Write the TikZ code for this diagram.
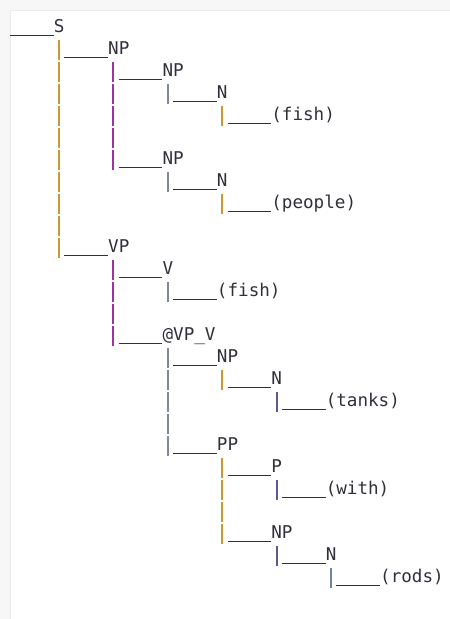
\documentclass[tikz,border=0pt]{standalone}
\usepackage{fontspec}
\setmonofont{DejaVu Sans Mono}
\usepackage{xcolor}
\usepackage{tikz}
\usetikzlibrary{calc}
\definecolor{Ink}{RGB}{48,48,58}
\definecolor{PageGray}{RGB}{247,247,247}
\definecolor{PanelLine}{RGB}{236,236,236}
\definecolor{BarGold}{RGB}{204,152,48}
\definecolor{BarPurple}{RGB}{160,50,160}
\definecolor{BarSteel}{RGB}{128,138,152}
\definecolor{BarSlate}{RGB}{100,86,140}
\definecolor{BarBlue}{RGB}{110,132,162}
% vertical stroke under a parent, down to its last child
\newcommand{\drop}[3]{%
  \path [draw, Bar, draw=#3] ($(#1.base west)+(5.44,7.5)$) -- ($(#1.base west |- #2.base west)+(5.44,5)$);}
% the ____ in front of a label
\newcommand{\twig}[1]{%
  \path [draw, Rule] ($(#1.base west)+(-43.5,3)$) -- ($(#1.base west)+(0,3)$);}

\begin{document}
\begin{tikzpicture}
  [
    x=0.75pt, y=-0.75pt,
    Label/.style={anchor=base west, inner sep=0pt, text=Ink, font=\ttfamily\fontsize{13.2}{15}\selectfont},
    Bar/.style={line width=1.5pt, dash pattern=on 14.625pt off 1.875pt},
    Rule/.style={line width=1.15pt, draw=Ink}
  ]
  \useasboundingbox (0, 0) rectangle (450, 619);
  \fill [PageGray] (0, 0) rectangle (450, 619);
  \fill [white] (10, 10) rectangle (450, 619);
  \path [draw, PanelLine, line width=0.6pt] (10, 619) |- (450, 10);
  % Nodes
  \node[Label] (S) at(53.5, 32.5) {S};
  \node[Label] (np1) at(107.9, 54.5) {NP};
  \node[Label] (np2) at(162.3, 76.5) {NP};
  \node[Label] (n1) at(216.7, 98.5) {N};
  \node[Label] (fish1) at(271.1, 120.5) {(fish)};
  \node[Label] (np3) at(162.3, 164.5) {NP};
  \node[Label] (n2) at(216.7, 186.5) {N};
  \node[Label] (people) at(271.1, 208.5) {(people)};
  \node[Label] (vp) at(107.9, 252.5) {VP};
  \node[Label] (v) at(162.3, 274.5) {V};
  \node[Label] (fish2) at(216.7, 296.5) {(fish)};
  \node[Label] (vpv) at(162.3, 340.5) {@VP\_V};
  \node[Label] (np4) at(216.7, 362.5) {NP};
  \node[Label] (n3) at(271.1, 384.5) {N};
  \node[Label] (tanks) at(325.5, 406.5) {(tanks)};
  \node[Label] (pp) at(216.7, 450.5) {PP};
  \node[Label] (p) at(271.1, 472.5) {P};
  \node[Label] (with) at(325.5, 494.5) {(with)};
  \node[Label] (np5) at(271.1, 538.5) {NP};
  \node[Label] (n4) at(325.5, 560.5) {N};
  \node[Label] (rods) at(379.9, 582.5) {(rods)};
  % Lines
  \drop{S}{vp}{BarGold}
  \drop{np1}{np3}{BarPurple}
  \drop{np2}{n1}{BarSteel}
  \drop{n1}{fish1}{BarGold}
  \drop{np3}{n2}{BarSteel}
  \drop{n2}{people}{BarGold}
  \drop{vp}{vpv}{BarPurple}
  \drop{v}{fish2}{BarSteel}
  \drop{vpv}{pp}{BarSteel}
  \drop{np4}{n3}{BarGold}
  \drop{n3}{tanks}{BarSlate}
  \drop{pp}{np5}{BarGold}
  \drop{p}{with}{BarSlate}
  \drop{np5}{n4}{BarSlate}
  \drop{n4}{rods}{BarBlue}
  \twig{S} \twig{np1} \twig{np2} \twig{n1} \twig{fish1}
  \twig{np3} \twig{n2} \twig{people} \twig{vp} \twig{v}
  \twig{fish2} \twig{vpv} \twig{np4} \twig{n3} \twig{tanks}
  \twig{pp} \twig{p} \twig{with} \twig{np5} \twig{n4} \twig{rods}
\end{tikzpicture}
\end{document}
